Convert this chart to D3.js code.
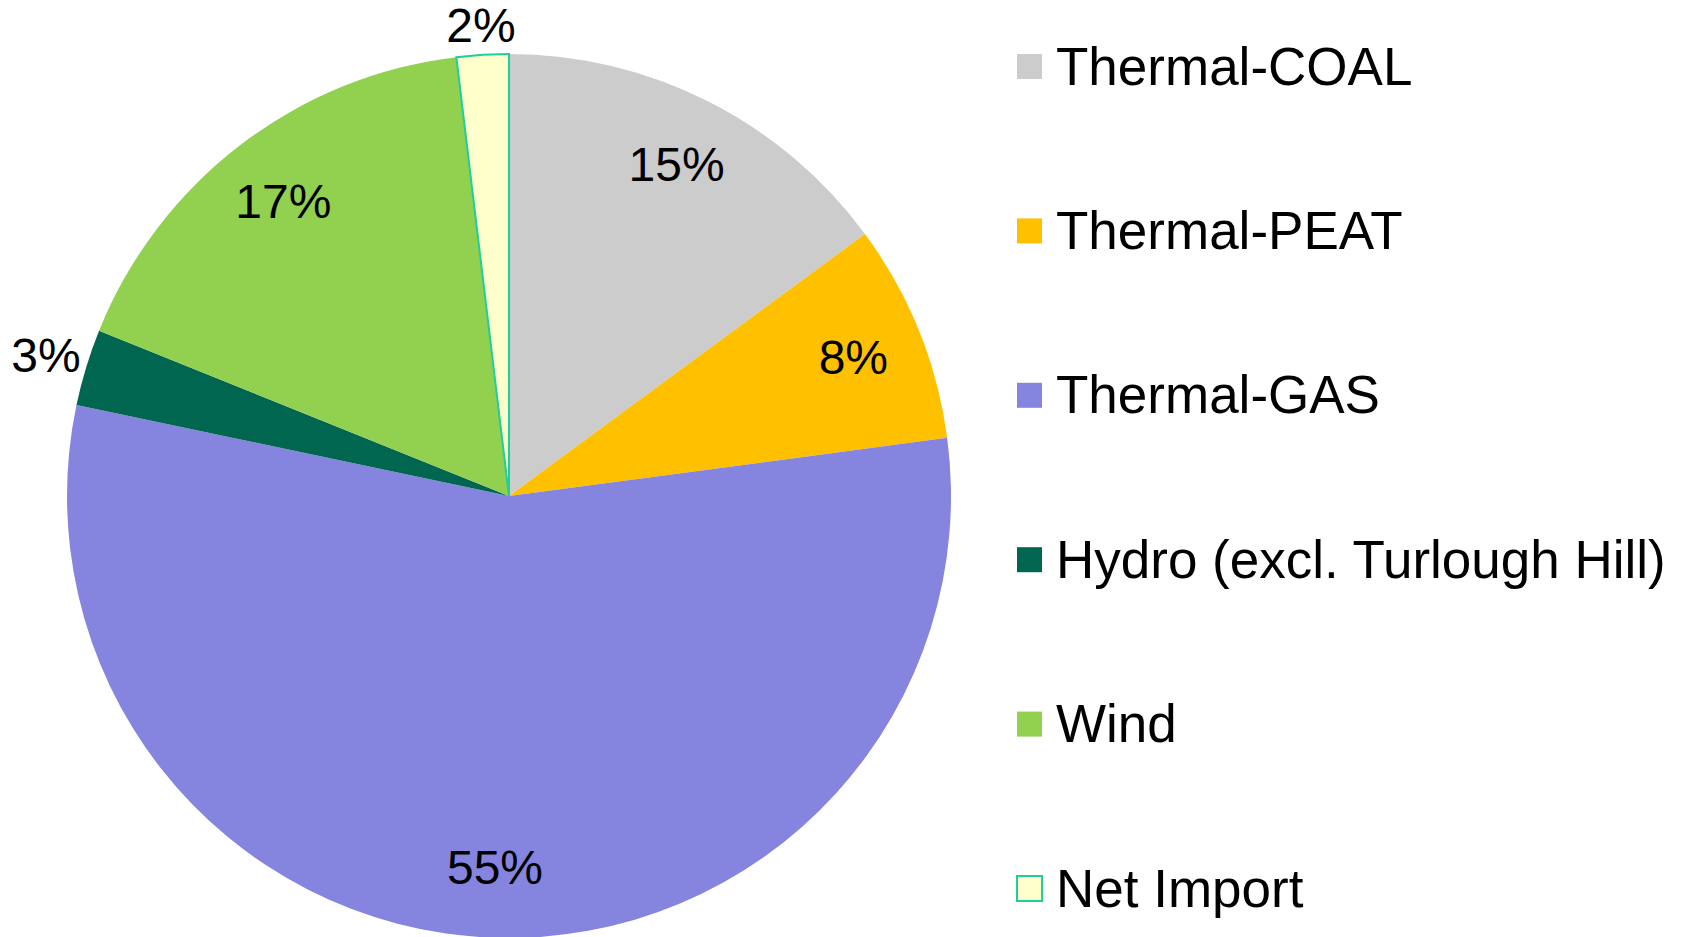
<!DOCTYPE html>
<html>
<head>
<meta charset="utf-8">
<script src="https://cdn.jsdelivr.net/npm/d3@7"></script>
<style>
  body { margin: 0; background: #fff; }
  svg { display: block; font-family: "Liberation Sans", Arial, sans-serif; }
</style>
</head>
<body>
<div id="chart-area"></div>
<script>
// Electricity generation share by fuel
var categories = ["Thermal-COAL", "Thermal-PEAT", "Thermal-GAS", "Hydro (excl. Turlough Hill)", "Wind", "Net Import"];
var values = [14.9, 8.0, 55.4, 2.8, 17.0, 1.9];
var colors = ["#cccccc", "#ffc000", "#8585e0", "#006650", "#92d050", "#ffffcc"];
var strokes = ["none", "none", "none", "none", "none", "#1ccf9c"];

var width = 1690,
    height = 937;

var cx = 509, cy = 496, radius = 442;

var svg = d3.select("#chart-area").append("svg")
    .attr("width", width)
    .attr("height", height);

var data = categories.map(function(c, i) {
    return { name: c, value: values[i], color: colors[i], stroke: strokes[i] };
});

var pie = d3.pie()
    .sort(null)
    .value(function(d) { return d.value; });

var arcs = pie(data);

var arc = d3.arc().innerRadius(0).outerRadius(radius);
var insideArc = d3.arc().innerRadius(radius * 0.84).outerRadius(radius * 0.84);

var g = svg.append("g").attr("transform", "translate(" + cx + ", " + cy + ")");

g.selectAll("path")
    .data(arcs)
    .enter().append("path")
    .attr("d", arc)
    .attr("fill", function(d) { return d.data.color; })
    .attr("stroke", function(d) { return d.data.stroke; })
    .attr("stroke-width", 2);

// Percent labels (small slices go outside, box just touching the rim)
var pct = d3.format(".0f");
g.selectAll("text.pct")
    .data(arcs)
    .enter().append("text")
    .attr("class", "pct")
    .attr("dy", "0.35em")
    .attr("text-anchor", "middle")
    .attr("font-size", "48px")
    .style("fill", "black")
    .text(function(d) { return pct(d.data.value) + "%"; })
    .attr("transform", function(d) {
        if (d.data.value >= 5) {
            return "translate(" + insideArc.centroid(d) + ")";
        }
        var box = this.getBBox();
        var a = (d.startAngle + d.endAngle) / 2;
        var s = Math.sin(a), c = Math.cos(a);
        var dist = radius + 1 + Math.abs(s) * box.width / 2 + Math.abs(c) * box.height / 2;
        return "translate(" + (s * dist) + "," + (-c * dist) + ")";
    });

// Legend
var legendY = d3.scalePoint()
    .domain(categories)
    .range([66, 888]);

var legend = svg.append("g")
    .attr("transform", "translate(1016, 0)");

var rows = legend.selectAll("g")
    .data(data)
    .enter().append("g")
    .attr("transform", function(d) { return "translate(0, " + legendY(d.name) + ")"; });

rows.append("rect")
    .attr("x", 1)
    .attr("y", -12)
    .attr("width", 25)
    .attr("height", 25)
    .attr("fill", function(d) { return d.color; })
    .attr("stroke", function(d) { return d.stroke; })
    .attr("stroke-width", 2);

rows.append("text")
    .attr("x", 40)
    .attr("dy", "0.35em")
    .attr("font-size", "53px")
    .style("fill", "black")
    .text(function(d) { return d.name; });
</script>
</body>
</html>
